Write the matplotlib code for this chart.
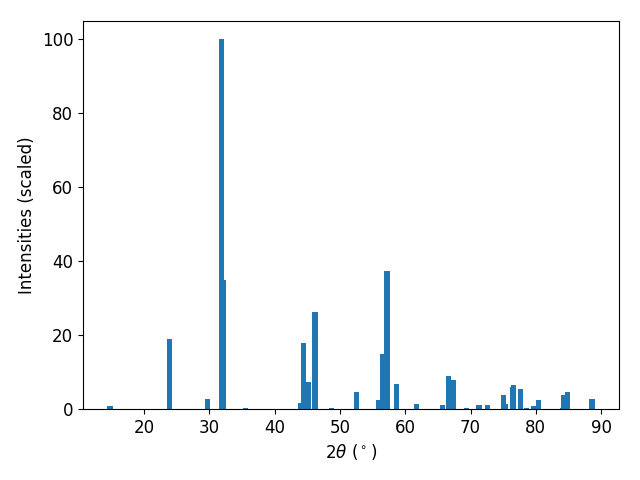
import matplotlib
matplotlib.use("Agg")
import matplotlib.pyplot as plt

two_theta = [14.8, 23.9, 29.7, 31.87, 32.2, 35.6,
             44.05, 44.43, 45.2, 46.2, 48.7, 52.6,
             56.0, 56.5, 57.2, 58.7, 61.7,
             65.7, 66.6, 67.4, 69.4, 71.3, 72.6,
             75.05, 75.4, 76.4, 76.55, 77.65, 78.6, 79.6, 80.4,
             84.1, 84.25, 84.85, 88.6]
intensity = [0.8, 19.0, 2.7, 100.0, 35.0, 0.4,
             1.6, 17.9, 7.3, 26.3, 0.3, 4.6,
             2.4, 14.9, 37.4, 6.8, 1.4,
             1.1, 9.0, 7.9, 0.3, 1.1, 1.1,
             3.8, 1.4, 6.0, 6.5, 5.4, 0.3, 0.8, 2.4,
             0.3, 3.8, 4.6, 2.7]

plt.rcParams['font.size'] = 12
fig, ax = plt.subplots(figsize=(6.4, 4.8), dpi=100)
ax.bar(two_theta, intensity, width=0.8, color='#1f77b4')
ax.set_xlabel(r'$2\theta$ ($^\circ$)')
ax.set_ylabel('Intensities (scaled)')
fig.subplots_adjust(left=83/640, right=619/640, top=1-21/480, bottom=1-409/480)
fig.savefig('out.png')
